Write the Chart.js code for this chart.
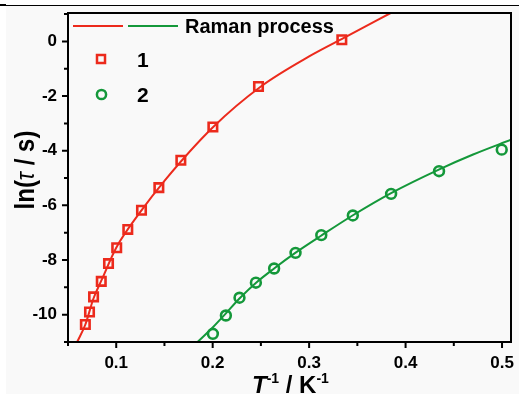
<!DOCTYPE html>
<html><head><meta charset="utf-8">
<script src="https://cdn.jsdelivr.net/npm/chart.js@4.4.0/dist/chart.umd.min.js"></script>
<style>html,body{margin:0;padding:0;background:#fff;}#wrap{width:519px;height:394px;position:relative;}canvas{display:block;}</style>
</head><body><div id="wrap"><canvas id="c" width="519" height="394"></canvas></div>
<script>
// tick labels
const xTickLabels = [0.1, 0.2, 0.3, 0.4, 0.5];
const yTickLabels = [-10, -8, -6, -4, -2, 0];
const xMinorTicks = [0.05, 0.15, 0.25, 0.35, 0.45];
const yMinorTicks = [-11, -9, -7, -5, -3, -1, 1];
// series 1 (red squares)
const s1X = [0.068, 0.0723, 0.0765, 0.0845, 0.092, 0.1005, 0.112, 0.1262, 0.1442, 0.167, 0.2002, 0.2475, 0.3339];
const s1Y = [-10.36, -9.90, -9.35, -8.78, -8.13, -7.55, -6.88, -6.18, -5.35, -4.35, -3.13, -1.65, 0.06];
// series 2 (green circles)
const s2X = [0.2002, 0.2137, 0.2278, 0.2448, 0.2637, 0.2859, 0.3126, 0.3453, 0.385, 0.4347, 0.4997];
const s2Y = [-10.70, -10.03, -9.38, -8.83, -8.31, -7.74, -7.09, -6.37, -5.58, -4.75, -3.96];
// Raman process curves
const fit1X = [0.0595, 0.068, 0.0765, 0.085, 0.1, 0.125, 0.15, 0.2, 0.25, 0.3, 0.34, 0.3845];
const fit1Y = [-11, -10.36, -9.4, -8.72, -7.55, -6.24, -5.1, -3.15, -1.65, -0.55, 0.2, 1.04];
const fit2X = [0.1843, 0.2, 0.213, 0.228, 0.245, 0.264, 0.286, 0.312, 0.345, 0.385, 0.435, 0.47, 0.5093];
const fit2Y = [-11, -10.47, -9.98, -9.4, -8.83, -8.3, -7.73, -7.12, -6.37, -5.55, -4.68, -4.14, -3.6];

const RED = '#ec2a1c', GREEN = '#14983a';
const FONT = "'Liberation Sans', Arial, sans-serif";
const pts = (xs, ys) => xs.map((x, i) => ({x: x, y: ys[i]}));
const AREA = {left: 68, top: 13, right: 511, bottom: 342};

const deco = {
  id: 'deco',
  afterLayout(chart) {
    const A = AREA, ca = chart.chartArea;
    ca.left = A.left; ca.top = A.top; ca.right = A.right; ca.bottom = A.bottom;
    ca.width = A.right - A.left; ca.height = A.bottom - A.top;
    const sx = chart.scales.x, sy = chart.scales.y;
    sx.left = A.left; sx.right = A.right; sx.width = A.right - A.left;
    sx.top = A.bottom; sx.bottom = chart.height; sx.height = chart.height - A.bottom;
    sy.left = 0; sy.right = A.left; sy.width = A.left;
    sy.top = A.top; sy.bottom = A.bottom; sy.height = A.bottom - A.top;
    sx.configure(); sy.configure();
  },
  beforeDraw(chart) {
    const ctx = chart.ctx;
    ctx.save();
    ctx.fillStyle = '#fff'; ctx.fillRect(0, 0, 519, 394);
    ctx.fillStyle = '#f9f9f9'; ctx.fillRect(6, 6, 513, 388);
    ctx.fillStyle = '#000'; ctx.fillRect(0, 5, 519, 1); ctx.fillRect(0, 4, 6, 2);
    ctx.restore();
  },
  afterDraw(chart) {
    const ctx = chart.ctx, a = chart.chartArea, sx = chart.scales.x, sy = chart.scales.y;
    ctx.save();
    ctx.strokeStyle = '#000'; ctx.lineWidth = 2;
    ctx.strokeRect(a.left, a.top, a.right - a.left, a.bottom - a.top);
    ctx.beginPath();
    xTickLabels.forEach(v => { const p = sx.getPixelForValue(v); ctx.moveTo(p, a.bottom); ctx.lineTo(p, a.bottom + 6); });
    xMinorTicks.forEach(v => { const p = sx.getPixelForValue(v); ctx.moveTo(p, a.bottom); ctx.lineTo(p, a.bottom + 4); });
    yTickLabels.forEach(v => { const p = sy.getPixelForValue(v); ctx.moveTo(a.left, p); ctx.lineTo(a.left - 6, p); });
    yMinorTicks.forEach(v => { const p = sy.getPixelForValue(v); if (p >= a.top - 1 && p <= a.bottom + 1) { ctx.moveTo(a.left, p); ctx.lineTo(a.left - 4, p); } });
    ctx.stroke();

    // legend
    ctx.lineWidth = 2;
    ctx.strokeStyle = RED; ctx.beginPath(); ctx.moveTo(73, 26); ctx.lineTo(123, 26); ctx.stroke();
    ctx.strokeStyle = GREEN; ctx.beginPath(); ctx.moveTo(128, 26); ctx.lineTo(178, 26); ctx.stroke();
    ctx.fillStyle = '#000'; ctx.textBaseline = 'alphabetic'; ctx.textAlign = 'left';
    ctx.font = 'bold 20px ' + FONT; ctx.fillText('Raman process', 185, 33);
    ctx.lineWidth = 2.5;
    ctx.strokeStyle = RED; ctx.strokeRect(97, 55, 8, 8);
    ctx.strokeStyle = GREEN; ctx.beginPath(); ctx.arc(101.5, 94.5, 4.6, 0, Math.PI * 2); ctx.stroke();
    ctx.font = 'bold 21px ' + FONT;
    ctx.fillText('1', 137, 67); ctx.fillText('2', 137, 102);

    // y title
    ctx.save();
    ctx.translate(34, 170); ctx.rotate(-Math.PI / 2); ctx.scale(1, 1.15);
    const yp = [['ln(', 'bold 24px ' + FONT], ['\u03C4', 'italic 22px ' + FONT], [' / s)', 'bold 24px ' + FONT]];
    let tw = 0; yp.forEach(p => { ctx.font = p[1]; tw += ctx.measureText(p[0]).width; });
    let cx = -tw / 2;
    yp.forEach(p => { ctx.font = p[1]; ctx.fillText(p[0], cx, 0); cx += ctx.measureText(p[0]).width; });
    ctx.restore();

    // x title
    const xp = [['T', 'italic bold 24px ' + FONT, 0], ['-1', 'bold 14px ' + FONT, -10], [' / K', 'bold 24px ' + FONT, 0], ['-1', 'bold 14px ' + FONT, -10]];
    let xx = 252;
    xp.forEach(p => { ctx.font = p[1]; ctx.fillText(p[0], xx, 393 + p[2]); xx += ctx.measureText(p[0]).width; });
    ctx.restore();
  }
};

new Chart(document.getElementById('c'), {
  type: 'scatter',
  data: {
    datasets: [
      {data: pts(fit1X, fit1Y), showLine: true, borderColor: RED, borderWidth: 2, pointRadius: 0, cubicInterpolationMode: 'monotone', clip: 0},
      {data: pts(fit2X, fit2Y), showLine: true, borderColor: GREEN, borderWidth: 2, pointRadius: 0, cubicInterpolationMode: 'monotone', clip: 0},
      {data: pts(s1X, s1Y), pointStyle: 'rect', pointRadius: 6, borderColor: RED, borderWidth: 2.6, backgroundColor: 'rgba(0,0,0,0)'},
      {data: pts(s2X, s2Y), pointStyle: 'circle', pointRadius: 4.9, borderColor: GREEN, borderWidth: 2.6, backgroundColor: 'rgba(0,0,0,0)'}
    ]
  },
  options: {
    responsive: false, animation: false, devicePixelRatio: 1,
    layout: {padding: {top: 13, right: 8, left: 0, bottom: 0}},
    plugins: {legend: {display: false}, tooltip: {enabled: false}},
    scales: {
      x: {
        type: 'linear', min: 0.05, max: 0.5093,
        grid: {display: false, drawTicks: false}, border: {display: false},
        afterFit: s => { s.height = 52; },
        afterBuildTicks: s => { s.ticks = xTickLabels.map(v => ({value: v})); },
        ticks: {padding: 11, color: '#000', autoSkip: false, maxRotation: 0,
          font: {family: FONT, weight: 'bold', size: 17}, callback: v => Number(v).toFixed(1)}
      },
      y: {
        type: 'linear', min: -11, max: 1.04,
        grid: {display: false, drawTicks: false}, border: {display: false},
        afterFit: s => { s.width = 68; },
        afterBuildTicks: s => { s.ticks = yTickLabels.map(v => ({value: v})); },
        ticks: {padding: 11, color: '#000', autoSkip: false,
          font: {family: FONT, weight: 'bold', size: 17}, callback: v => String(v)}
      }
    }
  },
  plugins: [deco]
});
</script></body></html>
